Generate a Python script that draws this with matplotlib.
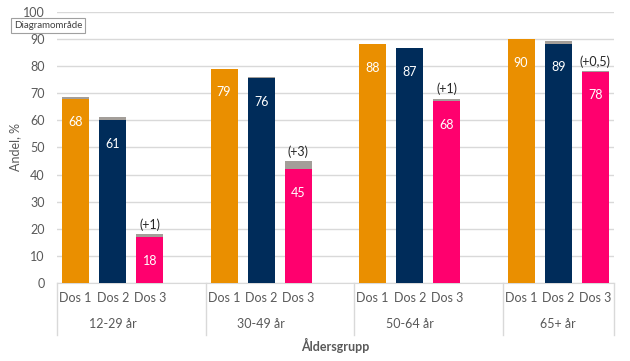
import matplotlib
matplotlib.use('Agg')
import matplotlib.pyplot as plt
import matplotlib.transforms as mtransforms

plt.rcParams['font.family'] = ['Lato', 'DejaVu Sans']

# Data
groups = ['12-29 år', '30-49 år', '50-64 år', '65+ år']
doses = ['Dos 1', 'Dos 2', 'Dos 3']
dos1 = [68, 79, 88, 90]
dos1_extra = [0.5, 0, 0, 0]
dos2 = [60, 75.6, 86.6, 88.3]
dos2_extra = [1.4, 0.4, 0, 1.0]
dos3 = [17, 42, 67, 78]
dos3_extra = [1, 3, 1, 0.2]
labels1 = ['68', '79', '88', '90']
labels2 = ['61', '76', '87', '89']
labels3 = ['18', '45', '68', '78']
extra_txt = ['(+1)', '(+3)', '(+1)', '(+0,5)']

colors = ['#EA8F00', '#002C5A', '#FF006E']
grey = '#A39E99'
tick_col = '#595959'

fig = plt.figure(figsize=(6.3, 3.61), dpi=100)
ax = fig.add_axes([0.0905, 0.216, 0.884, 0.751])

bw = 0.73
series = [(dos1, dos1_extra, labels1), (dos2, dos2_extra, labels2), (dos3, dos3_extra, labels3)]
for d, (base, extra, labs) in enumerate(series):
    xs = [4 * g + d for g in range(len(groups))]
    ax.bar(xs, base, width=bw, color=colors[d], zorder=3)
    ax.bar(xs, extra, width=bw, bottom=base, color=grey, zorder=3)
    for x, b, lab in zip(xs, base, labs):
        ax.annotate(lab, (x, b), xytext=(0, -17), textcoords='offset points',
                    ha='center', va='center', color='white', fontsize=9)

# (+n) labels above Dos 3
for g in range(len(groups)):
    top = dos3[g] + dos3_extra[g]
    ax.annotate(extra_txt[g], (4 * g + 2, top), xytext=(0, 7), textcoords='offset points',
                ha='center', va='center', color='#262626', fontsize=9)

ax.set_xlim(-0.5, 14.5)
ax.set_ylim(0, 100)
ax.set_yticks(range(0, 101, 10))
ax.tick_params(axis='y', length=0, labelcolor=tick_col, labelsize=9, pad=9)
ax.set_xticks([])
ax.grid(axis='y', color='#D9D9D9', linewidth=1, zorder=0)
for s in ['top', 'right', 'left']:
    ax.spines[s].set_visible(False)
ax.spines['bottom'].set_color('#D9D9D9')
ax.set_ylabel('Andel, %', color=tick_col, fontsize=9, labelpad=1)

# multi-level category axis
trans = mtransforms.blended_transform_factory(ax.transData, ax.transAxes)
for g in range(len(groups)):
    for d in range(3):
        ax.text(4 * g + d, -0.057, doses[d], transform=trans, ha='center', va='center',
                fontsize=9, color=tick_col)
    ax.text(4 * g + 1, -0.15, groups[g], transform=trans, ha='center', va='center',
            fontsize=9, color=tick_col)
for xd in [-0.5, 3.5, 7.5, 11.5, 14.5]:
    ax.plot([xd, xd], [0, -0.19], transform=trans, color='#D9D9D9', lw=1, clip_on=False)
ax.text(7, -0.23, 'Åldersgrupp', transform=trans, ha='center', va='center',
        fontsize=9, fontweight='bold', color=tick_col)

# Excel tooltip
fig.text(0.022, 0.93, 'Diagramområde', fontsize=7, color='#404040', va='center', ha='left',
         bbox=dict(boxstyle='square,pad=0.3', fc='white', ec='#A0A0A0', lw=0.8))

fig.savefig('out.png', dpi=100)
